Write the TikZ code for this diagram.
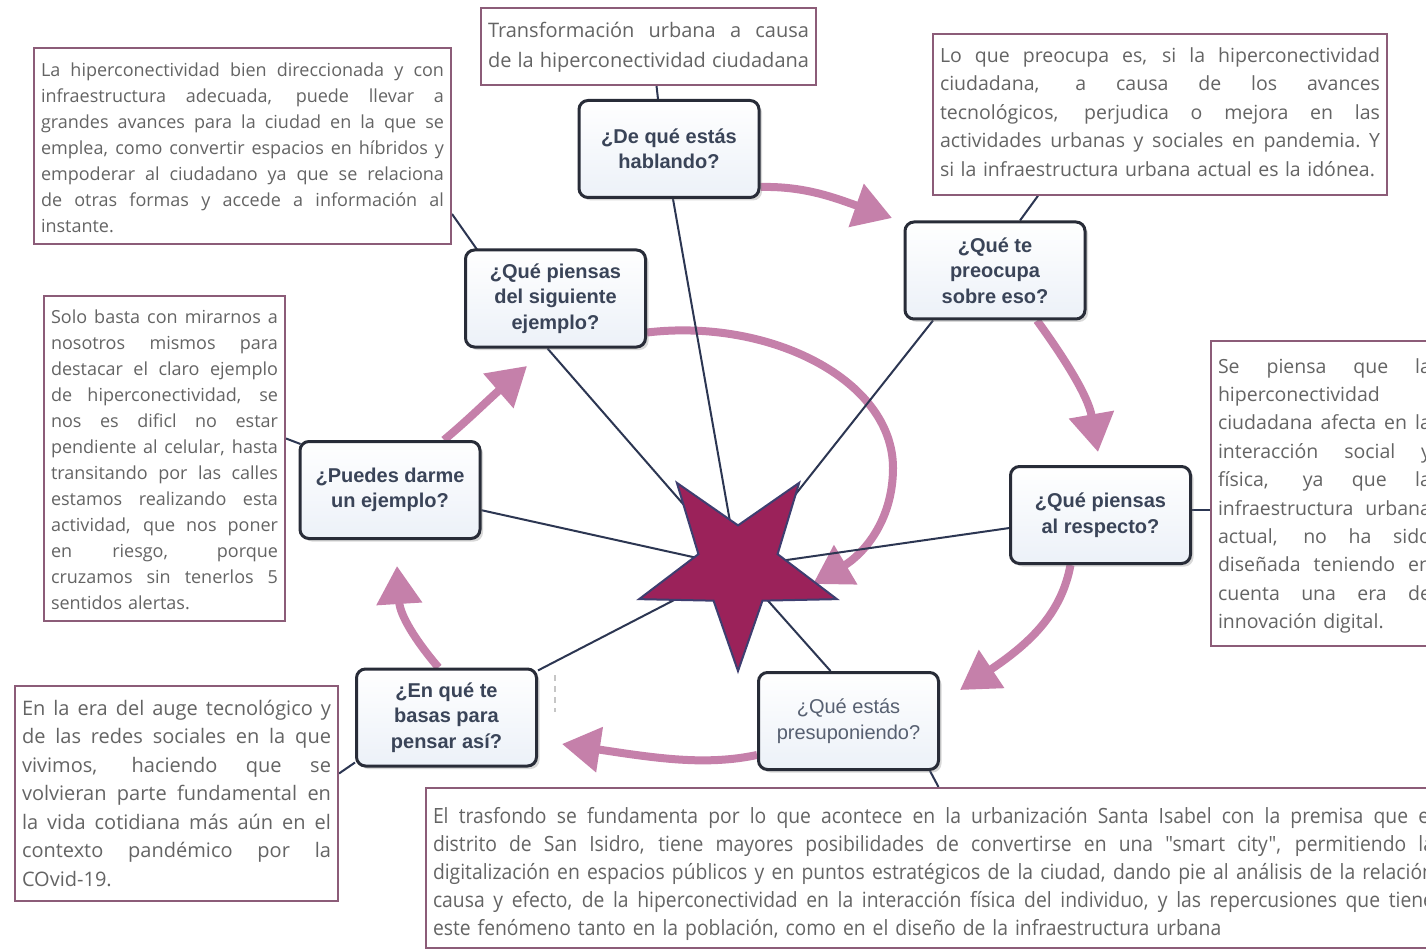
\documentclass[tikz,border=0pt]{standalone}
\usepackage{fontspec}
\setmainfont{Open Sans}
\newfontfamily\qfont{Liberation Sans}
\newfontfamily\condfont[FakeStretch=0.92]{Open Sans}
\usetikzlibrary{shapes.geometric,arrows.meta,shadows}
\pgfdeclarelayer{paper}
\pgfdeclarelayer{background}
\pgfsetlayers{paper,background,main}
\setlength{\parindent}{0pt}

\definecolor{boxline}{RGB}{140,92,120}
\definecolor{boxtext}{RGB}{100,100,100}
\definecolor{qline}{RGB}{40,44,56}
\definecolor{qtext}{RGB}{58,68,88}
\definecolor{qfill}{RGB}{236,241,248}
\definecolor{linkc}{RGB}{44,54,82}
\definecolor{cyclepink}{RGB}{197,128,170}
\definecolor{starfill}{RGB}{155,34,90}
\definecolor{starline}{RGB}{62,62,112}

% justified line of a text box (spaces share the free room),
% a plain closing line, and bottom padding
\newlength{\jw}
\newcommand\jl[1]{\par\noindent\hbox to\jw{\spaceskip=.27em plus 1fil minus .06em\xspaceskip=\spaceskip #1}\par}
\newcommand\lastl[1]{\par\noindent#1\par}
\newcommand\padb[1]{\par\kern#1\relax}

\tikzset{
  textbox/.style={draw=boxline, line width=2pt, fill=white, text=boxtext,
    inner xsep=7pt, inner ysep=0pt, anchor=north west,
    font=\fontsize{18}{26}\selectfont},
  tw/.style={text width=#1, execute at begin node={\setlength{\jw}{#1}}},
  question/.style={draw=qline, line width=3pt, rounded corners=9pt,
    top color=white, bottom color=qfill, minimum width=180pt,
    minimum height=97pt, align=center, text=qtext,
    font=\qfont\bfseries\fontsize{20}{25.5}\selectfont,
    drop shadow={shadow xshift=3pt,shadow yshift=-3pt,opacity=0.3}},
  link/.style={draw=linkc, line width=2pt},
  cyc/.style={draw=cyclepink, line width=8pt,
    -{Triangle[length=38pt,width=44pt]}},
}

\begin{document}
\begin{tikzpicture}[x=1pt,y=-1pt]
\useasboundingbox (0,0) rectangle (1426,949);
\begin{pgfonlayer}{paper}
  \fill[white] (0,0) rectangle (1426,949);
\end{pgfonlayer}
\clip (0,0) rectangle (1426,949);

% ---- explanatory text boxes ----
\node[textbox, tw=403pt, minimum height=196pt] (tl) at (33,47) {%
\jl{La hiperconectividad bien direccionada y con}%
\jl{infraestructura adecuada, puede llevar a}%
\jl{grandes avances para la ciudad en la que se}%
\jl{emplea, como convertir  espacios en híbridos y}%
\jl{empoderar al ciudadano ya que se relaciona}%
\jl{de otras formas y accede a información al}%
\lastl{instante.}\padb{8pt}};

\node[textbox, tw=321pt, minimum height=75pt,
      font=\fontsize{20}{30}\selectfont] (tc) at (480,7) {%
\jl{Transformación urbana a causa}%
\jl{de la hiperconectividad ciudadana}\padb{12pt}};

\node[textbox, tw=440pt, minimum height=160pt,
      font=\fontsize{19.5}{28.5}\selectfont] (tr) at (932,33) {%
\jl{Lo que preocupa es, si la hiperconectividad}%
\jl{ciudadana, a causa de los avances}%
\jl{tecnológicos, perjudica o mejora en las}%
\jl{actividades urbanas y sociales en pandemia. Y}%
\lastl{si la infraestructura urbana actual es la idónea.}\padb{18pt}};

\node[textbox, tw=213pt, minimum height=305pt,
      font=\fontsize{19.5}{28.4}\selectfont] (rt) at (1210,340) {%
\jl{Se piensa que la}%
\lastl{hiperconectividad}%
\jl{ciudadana afecta en la}%
\jl{interacción social y}%
\jl{física, ya que la}%
\jl{infraestructura urbana}%
\jl{actual, no ha sido}%
\jl{diseñada teniendo en}%
\jl{cuenta una era de}%
\lastl{innovación digital.}\padb{9pt}};

\node[textbox, tw=227pt, minimum height=325pt] (lf) at (43,295) {%
\jl{Solo basta con mirarnos a}%
\jl{nosotros mismos para}%
\jl{destacar el claro ejemplo}%
\jl{de hiperconectividad, se}%
\jl{nos es dificl no estar}%
\jl{pendiente al celular, hasta}%
\jl{transitando por las calles}%
\jl{estamos realizando esta}%
\jl{actividad, que nos poner}%
\jl{en riesgo, porque}%
\jl{cruzamos sin tenerlos 5}%
\lastl{sentidos alertas.}\padb{10pt}};

\node[textbox, tw=309pt, minimum height=215pt,
      font=\fontsize{20}{28.5}\selectfont] (bl) at (14,685) {%
\jl{En la era del auge tecnológico y}%
\jl{de las redes sociales en la que}%
\jl{vivimos, haciendo que se}%
\jl{volvieran parte fundamental en}%
\jl{la vida cotidiana más aún en el}%
\jl{contexto pandémico por la}%
\lastl{COvid-19.}\padb{14pt}};

\node[textbox, tw=1001pt, minimum height=160pt,
      font=\condfont\fontsize{21}{28}\selectfont] (bb) at (425,787) {%
\jl{El trasfondo se fundamenta por lo que acontece en la urbanización Santa Isabel con la premisa que el}%
\jl{distrito de San Isidro, tiene mayores posibilidades de convertirse en una "smart city", permitiendo la}%
\jl{digitalización en espacios públicos y en puntos estratégicos de la ciudad, dando pie al análisis de la relación}%
\jl{causa y efecto, de la hiperconectividad en la interacción física del individuo, y las repercusiones que tiene}%
\lastl{este fenómeno tanto en la población, como en el diseño de la infraestructura urbana}};

% ---- question cycle ----
\node[question] (q1) at (669,149) {¿De qué estás\\hablando?};
\node[question] (q2) at (995,270.5) {¿Qué te\\preocupa\\sobre eso?};
\node[question] (q3) at (1100.5,515) {¿Qué piensas\\al respecto?};
\node[question, text=qtext!85, font=\qfont\fontsize{20}{25.5}\selectfont]
  (q4) at (848.5,721) {¿Qué estás\\presuponiendo?};
\node[question] (q5) at (446.5,717.5) {¿En qué te\\basas para\\pensar así?};
\node[question] (q6) at (390,490) {¿Puedes darme\\un ejemplo?};
\node[question] (q7) at (555.5,298.5) {¿Qué piensas\\del siguiente\\ejemplo?};

% ---- central star ----
\node[star, star points=5, star point ratio=2.5, shape border rotate=180,
      minimum size=208pt, inner sep=0pt, fill=starfill, draw=starline,
      line width=2pt] (star) at (738,567) {};

% arrow tips of the cycle
\coordinate (t1) at (892,218);
\coordinate (t2) at (1098,452);
\coordinate (t3) at (960,690);
\coordinate (t4) at (562,744);
\coordinate (t5) at (397,566);
\coordinate (t6) at (527,366);
\coordinate (t7) at (813,584);

\begin{pgfonlayer}{background}
  % pink cycle arrows
  \draw[cyc] ([yshift=-38pt]q1.east) .. controls (805,186) and (835,198) .. (t1);
  \draw[cyc] ([xshift=42pt]q2.south) .. controls (1062,355) and (1088,395) .. (t2);
  \draw[cyc] ([xshift=-30pt]q3.south) .. controls (1062,610) and (1035,640) .. (t3);
  \draw[cyc] ([yshift=-34pt]q4.west) .. controls (705,766) and (655,758) .. (t4);
  \draw[cyc] ([xshift=-8pt]q5.north) .. controls (415,640) and (400,615) .. (t5);
  \draw[cyc] ([xshift=54pt]q6.north) .. controls (468,420) and (488,400) .. (t6);
  \draw[cyc] ([yshift=-34pt]q7.east) .. controls (770,318) and (893,380) .. (893,468)
             .. controls (893,522) and (862,555) .. (t7);

  % spokes to the star
  \draw[link] ([xshift=4pt]q1.south) -- (star.center);
  \draw[link] ([xshift=-62pt]q2.south) -- (star.center);
  \draw[link] (q3) -- (star.center);
  \draw[link] ([xshift=-18pt]q4.north) -- (star.center);
  \draw[link] (q5) -- (star.center);
  \draw[link] (q6) -- (star.center);
  \draw[link] ([xshift=-8pt]q7.south) -- (star.center);

  % questions to their text boxes
  \draw[link] ([xshift=8pt]tc.south) -- ([xshift=-11pt]q1.north);
  \draw[link] ([yshift=-68pt]tl.east) -- ([xshift=13pt,yshift=-1pt]q7.north west);
  \draw[link] ([xshift=-122pt]tr.south) -- ([xshift=25pt]q2.north);
  \draw[link] ([yshift=5pt]q3.east) -- ([yshift=5pt]q3.east -| rt.west);
  \draw[link] ([yshift=20pt]lf.east) -- ([xshift=2pt,yshift=-4pt]q6.north west);
  \draw[link] ([yshift=20pt]bl.east) -- ([yshift=-45pt]q5.west);
  \draw[link] ([xshift=-10pt]q4.south east) -- ([xshift=5pt]bb.north);

  % faint dashed mark beside the lower left question
  \draw[gray!45, line width=1.2pt, dash pattern=on 6pt off 5pt] (555,675) -- (555,712);
\end{pgfonlayer}
\end{tikzpicture}
\end{document}
